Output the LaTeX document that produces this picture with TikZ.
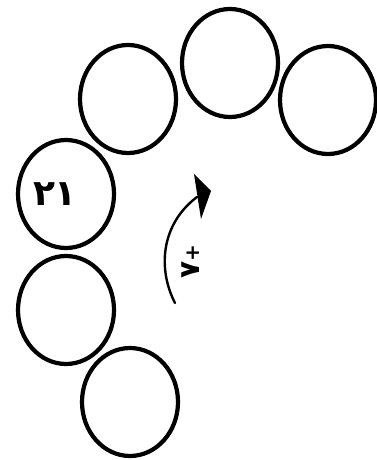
\documentclass[tikz,border=0pt]{standalone}
\usepackage{fontspec}
\newfontfamily\arabicfont[Script=Arabic]{DejaVu Sans}
\newfontfamily\dvs{DejaVu Sans}
\usetikzlibrary{shapes.geometric}
\begin{document}
\begin{tikzpicture}[x=1pt,y=-1pt,
  ring/.style={ellipse,draw=black,line width=4.2pt,minimum width=96pt,minimum height=108pt,inner sep=0pt},
  lbl/.style={inner sep=0pt}]
\useasboundingbox (0,0) rectangle (377,460);
\node[ring] (A) at (128,99) {};
\node[ring] (B) at (230,63) {};
\node[ring] (C) at (328,100) {};
\node[ring] (D) at (66,194) {};
\node[ring] (E) at (66,310) {};
\node[ring] (F) at (130,402) {};
\node[lbl,font=\arabicfont\bfseries\fontsize{36}{38}\selectfont] (t21) at (55,194) {۲۱};
\node[lbl,font=\bfseries\fontsize{28}{30}\selectfont,rotate=90] (t7) at (191,262) {{\arabicfont ۷}{\dvs\fontsize{20}{22}\selectfont +}};
\coordinate (s) at (175,303);
\coordinate (e) at (197,197);
\draw[line width=2.4pt,line cap=round] (s) .. controls (158,270) and (160,225) .. (e);
\fill (194,174) -- (211,191) -- (201,219) -- cycle;
\end{tikzpicture}
\end{document}
